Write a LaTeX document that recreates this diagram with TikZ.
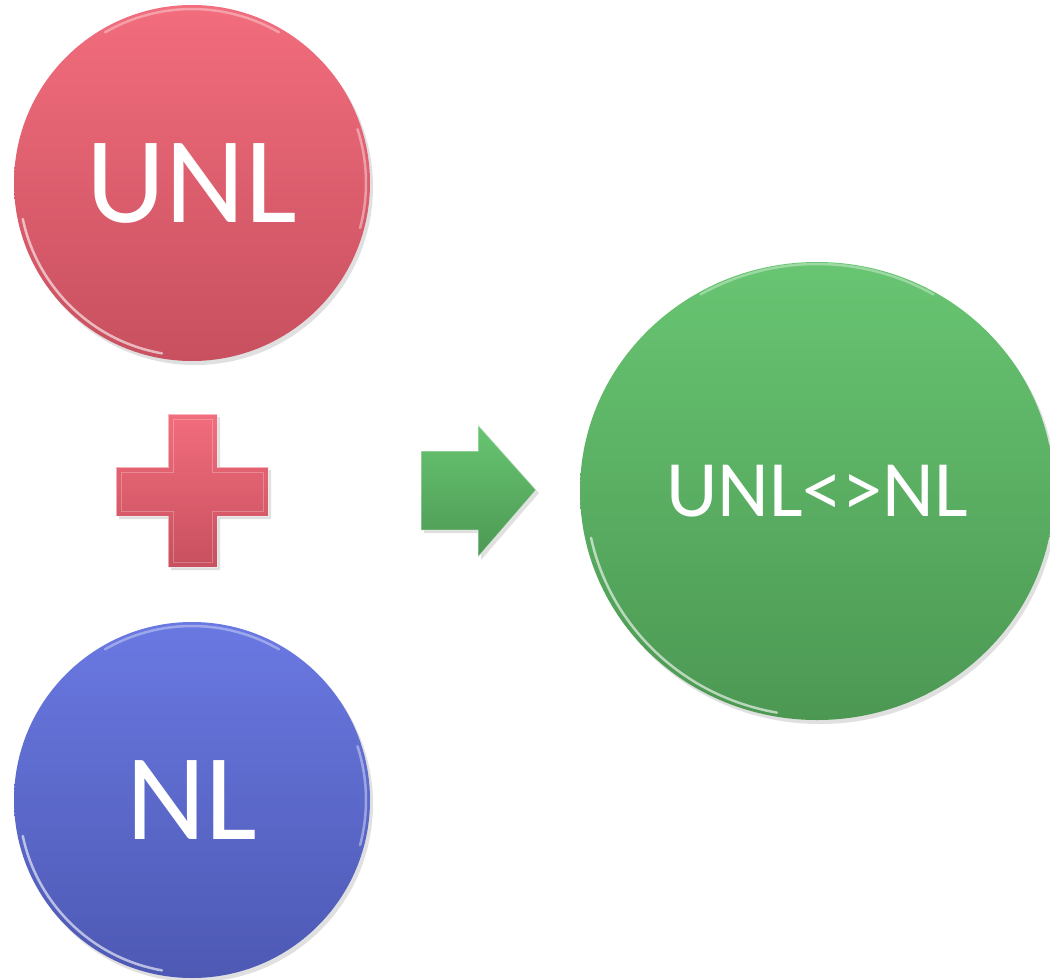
\documentclass[tikz,border=0pt]{standalone}
\usepackage{fontspec}
\setmainfont{Carlito}
\usetikzlibrary{shapes.geometric}
\definecolor{redtop}{HTML}{F26D7D}
\definecolor{redbot}{HTML}{C8505F}
\definecolor{bluetop}{HTML}{6A79E2}
\definecolor{bluebot}{HTML}{4D59B3}
\definecolor{greentop}{HTML}{68C572}
\definecolor{greenbot}{HTML}{4C9853}
\tikzset{
  disc/.style={circle, inner sep=0pt, minimum size=356pt, text=white, font=\fontsize{123}{123}\selectfont},
  rim/.style={white, opacity=0.6, line width=2.5pt, line cap=round},
  shadowed/.style={fill=black, opacity=0.12},
}
\begin{document}
\begin{tikzpicture}[x=1pt,y=-1pt]
\useasboundingbox (0,0) rectangle (1050,980);
% shadows
\fill[shadowed] (195,187) circle (178);
\fill[shadowed] (195,804) circle (178);
\fill[shadowed] (820,495) ellipse [x radius=237, y radius=229];
% circles
\node[disc, top color=redtop, bottom color=redbot] (unl) at (192,183) {\raisebox{-3pt}{UNL}};
\node[disc, top color=bluetop, bottom color=bluebot] (nl) at (192,800) {NL};
\node[ellipse, inner sep=0pt, minimum width=474pt, minimum height=458pt,
      top color=greentop, bottom color=greenbot, text=white,
      font=\fontsize{80}{80}\selectfont] (res) at (817,491) {UNL<>NL};
% rim highlights (lower left and right)
\draw[rim] (unl.center) ++(100:173) arc[start angle=100, end angle=168, radius=173];
\draw[rim] (nl.center) ++(100:173) arc[start angle=100, end angle=168, radius=173];
\draw[rim] (res.center) ++(100:231 and 225) arc[start angle=100, end angle=168, x radius=231, y radius=225];
\draw[rim, opacity=0.4] (unl.center) ++(-18:174) arc[start angle=-18, end angle=15, radius=174];
\draw[rim, opacity=0.4] (nl.center) ++(-18:174) arc[start angle=-18, end angle=15, radius=174];
\draw[rim, opacity=0.35] (unl.center) ++(-120:174) arc[start angle=-120, end angle=-60, radius=174];
\draw[rim, opacity=0.35] (nl.center) ++(-120:174) arc[start angle=-120, end angle=-60, radius=174];
\draw[rim, opacity=0.35] (res.center) ++(-120:233 and 227) arc[start angle=-120, end angle=-60, x radius=233, y radius=227];
% plus sign
\fill[shadowed] (171,417) -- (220,417) -- (220,470) -- (271,470) -- (271,519) -- (220,519) -- (220,570) -- (171,570) -- (171,519) -- (119,519) -- (119,470) -- (171,470) -- cycle;
\shade[top color=redtop, bottom color=redbot, draw=white, draw opacity=0.5, line width=1pt]
  (168,414) -- (217,414) -- (217,467) -- (268,467) -- (268,516) -- (217,516) -- (217,567) -- (168,567) -- (168,516) -- (116,516) -- (116,467) -- (168,467) -- cycle;
\draw[white, opacity=0.25, line width=0.8pt]
  (173,419) -- (212,419) -- (212,472) -- (263,472) -- (263,511) -- (212,511) -- (212,562) -- (173,562) -- (173,511) -- (121,511) -- (121,472) -- (173,472) -- cycle;
% arrow
\fill[shadowed] (424,454) -- (481,454) -- (481,428) -- (539,493) -- (481,560) -- (481,533) -- (424,533) -- cycle;
\shade[top color=greentop, bottom color=greenbot, draw=white, draw opacity=0.45, line width=1pt]
  (421,451) -- (478,451) -- (478,425) -- (536,490) -- (478,557) -- (478,530) -- (421,530) -- cycle;
\end{tikzpicture}
\end{document}
